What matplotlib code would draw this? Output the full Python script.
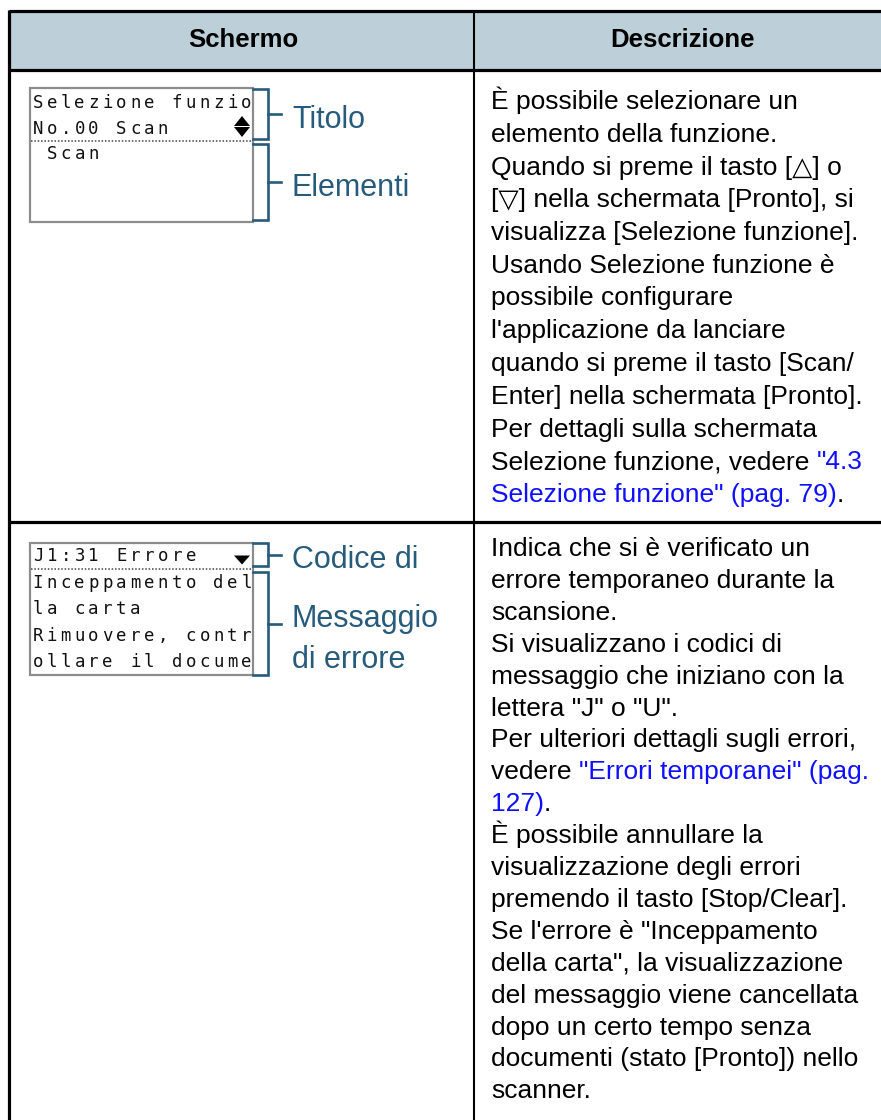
import matplotlib
matplotlib.use("Agg")
import matplotlib.pyplot as plt
from matplotlib.font_manager import FontProperties

# table text
headers = ["Schermo", "Descrizione"]

row1_desc = [
    "È possibile selezionare un",
    "elemento della funzione.",
    "Quando si preme il tasto [△] o",
    "[▽] nella schermata [Pronto], si",
    "visualizza [Selezione funzione].",
    "Usando Selezione funzione è",
    "possibile configurare",
    "l'applicazione da lanciare",
    "quando si preme il tasto [Scan/",
    "Enter] nella schermata [Pronto].",
    "Per dettagli sulla schermata",
    'Selezione funzione, vedere {"4.3}',
    '{Selezione funzione" (pag. 79)}.',
]

row2_desc = [
    "Indica che si è verificato un",
    "errore temporaneo durante la",
    "scansione.",
    "Si visualizzano i codici di",
    "messaggio che iniziano con la",
    'lettera "J" o "U".',
    "Per ulteriori dettagli sugli errori,",
    'vedere {"Errori temporanei" (pag.}',
    "{127)}.",
    "È possibile annullare la",
    "visualizzazione degli errori",
    "premendo il tasto [Stop/Clear].",
    'Se l\'errore è "Inceppamento',
    'della carta", la visualizzazione',
    "del messaggio viene cancellata",
    "dopo un certo tempo senza",
    "documenti (stato [Pronto]) nello",
    "scanner.",
]

lcd1_lines = ["Selezione funzio", "No.00 Scan", " Scan"]
lcd2_lines = ["J1:31 Errore", "Inceppamento del", "la carta",
              "Rimuovere, contr", "ollare il docume"]
lcd1_labels = [["Titolo"], ["Elementi"]]
lcd2_labels = [["Codice di"], ["Messaggio", "di errore"]]

HEAD_BG = "#bdcfd9"
LABEL_C = "#275b7c"
LINK_C = "#1010ff"
LCD_EDGE = "#8c8c8c"

fig = plt.figure(figsize=(8.81, 11.2), dpi=100)
ax = fig.add_axes([0, 0, 1, 1])
ax.set_xlim(0, 881)
ax.set_ylim(1120, 0)
ax.axis("off")

# ---- table frame ----
ax.add_patch(plt.Rectangle((9, 11), 872, 59, color=HEAD_BG, lw=0))
lw_tab = 2.3
ax.plot([9, 881], [11, 11], color="black", lw=lw_tab, solid_capstyle="butt")
ax.plot([9, 881], [70, 70], color="black", lw=lw_tab, solid_capstyle="butt")
ax.plot([9, 881], [522, 522], color="black", lw=lw_tab, solid_capstyle="butt")
ax.plot([9, 9], [10, 1120], color="black", lw=lw_tab, solid_capstyle="butt")
ax.plot([474, 474], [10, 1120], color="black", lw=1.5, solid_capstyle="butt")

hfont = dict(family=["Liberation Sans", "DejaVu Sans"], fontsize=18.5, fontweight="bold")
ax.text(243, 40, headers[0], ha="center", va="center", **hfont)
ax.text(682, 40, headers[1], ha="center", va="center", **hfont)

# ---- description text ----
fam = ["Liberation Sans", "DejaVu Sans"]
dsize = 19
fp = FontProperties(family=fam, size=dsize)
renderer = fig.canvas.get_renderer()


def width(s):
    if not s:
        return 0.0
    return renderer.get_text_width_height_descent(s, fp, ismath=False)[0]


def draw_desc(lines, x0, y0, pitch):
    for i, line in enumerate(lines):
        y = y0 + i * pitch
        if "{" not in line:
            ax.text(x0, y, line, fontsize=dsize, family=fam, va="baseline")
            continue
        pre, rest = line.split("{")
        link, post = rest.split("}")
        full = pre + link + post
        if pre:
            ax.text(x0, y, pre, fontsize=dsize, family=fam, va="baseline")
        xl = x0 + width(pre + link) - width(link) if pre else x0
        ax.text(xl, y, link, fontsize=dsize, family=fam, va="baseline", color=LINK_C)
        if post:
            xp = x0 + width(full) - width(post)
            ax.text(xp, y, post, fontsize=dsize, family=fam, va="baseline")


draw_desc(row1_desc, 491, 109, 32.75)
draw_desc(row2_desc, 491, 556, 31.9)

# ---- LCD screens ----
PITCH = 13.9
lcd_kw = dict(family="DejaVu Sans Mono", fontsize=12.5, color="#111111",
              ha="center", va="center")


def lcd_line(text, x_left, y):
    for j, ch in enumerate(text):
        if ch != " ":
            ax.text(x_left + PITCH * (j + 0.5), y, ch, **lcd_kw)


def bracket(y_top, y_bot, x_in=253, x_v=268, x_tick=281):
    ax.plot([x_in, x_v, x_v, x_in], [y_top, y_top, y_bot, y_bot],
            color=LABEL_C, lw=1.9, solid_joinstyle="miter")
    ym = (y_top + y_bot) / 2
    ax.plot([x_v, x_tick], [ym, ym], color=LABEL_C, lw=1.9)
    return ym


lab_kw = dict(family=fam, fontsize=22, color=LABEL_C, va="center_baseline", ha="left")


def labels(lines, y_first, step=41):
    for k, t in enumerate(lines):
        ax.text(292, y_first + k * step + 2, t, **lab_kw)


def tri(xc, yc, up, w=17, h=10):
    if up:
        pts = [(xc - w / 2, yc + h / 2), (xc + w / 2, yc + h / 2), (xc, yc - h / 2)]
    else:
        pts = [(xc - w / 2, yc - h / 2), (xc + w / 2, yc - h / 2), (xc, yc + h / 2)]
    ax.add_patch(plt.Polygon(pts, closed=True, color="black", lw=0))


# screen 1
ax.add_patch(plt.Rectangle((30, 88), 223, 134, fill=False, ec=LCD_EDGE, lw=1.6))
ax.plot([31, 252], [141, 141], color="#444444", lw=1.1, ls=(0, (1, 1.2)))
lcd_line(lcd1_lines[0], 31, 103)
lcd_line(lcd1_lines[1], 31, 129)
lcd_line(lcd1_lines[2], 31, 154)
tri(242, 121, True, w=16, h=10)
tri(242, 132, False, w=16, h=10)
ym = bracket(89, 139)
labels(lcd1_labels[0], ym)
ym = bracket(144, 220)
labels(lcd1_labels[1], ym)

# screen 2
ax.add_patch(plt.Rectangle((30, 543), 223, 132, fill=False, ec=LCD_EDGE, lw=1.6))
ax.plot([31, 252], [569, 569], color="#444444", lw=1.1, ls=(0, (1, 1.2)))
for k, txt in enumerate(lcd2_lines):
    lcd_line(txt, 31, 556 + k * 26.6)
tri(242, 560, False, w=16, h=9)
ym = bracket(543, 566)
labels(lcd2_labels[0], ym)
ym = bracket(572, 675)
labels(lcd2_labels[1], 614)

fig.savefig("out.png", dpi=100)
